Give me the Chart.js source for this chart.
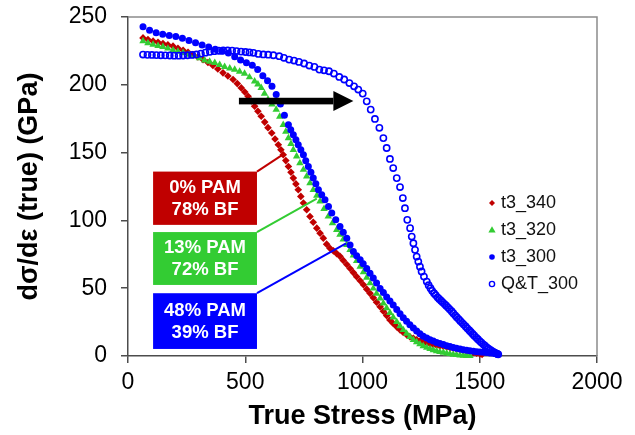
<!DOCTYPE html>
<html><head><meta charset="utf-8">
<script src="https://cdn.jsdelivr.net/npm/chart.js@4.4.1/dist/chart.umd.min.js"></script>
<style>html,body{margin:0;padding:0;background:#fff}canvas{display:block}</style>
</head><body>
<canvas id="c" width="635" height="435"></canvas>
<script>
const FONT = "'Liberation Sans', Arial, sans-serif";

// ---- data (True Stress MPa, dσ/dε GPa) ----
const seriesNames = ['t3_340', 't3_320', 't3_300', 'Q&T_300'];

const t3_340 = [[64,234.6],[85,233.4],[107,232.2],[128,231.3],[149,230.4],[170,229.5],[192,228.5],[213,227],[235,225.5],[256,224],[277,222.3],[298,220.5],[320,218.6],[341,216.5],[362,214.2],[383,211.6],[405,208.8],[426,206.5],[448,203.9],[466,200.9],[483,197.7],[498,194.7],[512,191.6],[526,188],[540,184.2],[554,180.5],[568,176.8],[583,172.5],[597,168.4],[613,164.4],[627,160],[641,155.8],[652,152.1],[662,148.4],[673,144.1],[684,139.8],[695,135.5],[705,131.2],[716,126.9],[726,122.6],[737,117.7],[748,112.8],[762,107.8],[776,102.9],[790,98.6],[805,94.3],[819,90.6],[833,86.9],[847,82.5],[861,79.5],[876,77.5],[890,75.5],[904,73.5],[918,70.5],[933,67.5],[947,64.5],[961,61.5],[975,58.5],[990,55.5],[1004,52.5],[1018,49.3],[1032,46.2],[1046,43],[1060,39.7],[1075,36.4],[1089,33],[1103,29.8],[1117,26.6],[1131,24],[1146,21.5],[1160,19.3],[1174,17.4],[1188,15.7],[1202,14.2],[1217,13],[1231,12],[1245,11],[1259,10.3],[1274,9.6],[1288,9],[1302,8.4],[1316,7.9],[1330,7.5],[1345,7.1],[1359,6.7],[1373,6.2],[1387,5.7],[1401,5.2],[1416,4.6],[1430,4.1],[1444,3.6],[1458,3.1],[1473,2.6],[1487,2.1],[1501,1.6],[1510,1.2]];

const t3_320 = [[64,232.2],[85,230.8],[107,229.7],[128,228.8],[149,228],[170,226.8],[192,225.5],[213,224.5],[235,223.6],[260,222.3],[284,221.1],[305,219.6],[327,218.1],[348,217.2],[370,216.2],[391,214.7],[412,213.2],[434,212.2],[455,211.2],[476,209.8],[497,208.3],[518,205.6],[540,202.6],[554,200.3],[568,197.7],[582,193.6],[597,189.1],[614,185.5],[632,181.7],[647,176.5],[662,170.5],[673,165.5],[684,160.7],[695,156.4],[705,152.1],[719,147.2],[733,142.3],[748,137.4],[762,132.5],[776,127.5],[790,122.6],[805,118.3],[819,114],[836,108.5],[854,102.9],[872,98],[890,93.1],[904,89.5],[918,86],[933,82],[947,78.3],[961,74.2],[975,70.1],[990,66],[1004,61.9],[1018,57.8],[1032,53.7],[1046,49.8],[1060,46],[1075,42.5],[1089,38.8],[1103,35.3],[1117,31.8],[1131,28.5],[1146,25.2],[1160,22],[1174,19.2],[1188,16.6],[1202,14.2],[1217,12],[1231,10.2],[1245,8.7],[1259,7.3],[1274,6.2],[1288,5.2],[1302,4.3],[1316,3.6],[1330,3],[1345,2.5],[1359,2],[1373,1.5],[1387,1.1],[1401,0.8],[1416,0.5],[1430,0.3],[1444,0.2],[1458,0.1]];

const t3_300 = [[64,242.8],[92,240.3],[120,238.3],[148,237.3],[176,236.4],[204,235.7],[232,234.4],[260,232.7],[288,231],[316,229.4],[344,227.8],[372,226.2],[400,224.8],[428,223.4],[455,220.6],[480,218.2],[505,216.2],[530,214.5],[553,211.2],[575,206.7],[595,203],[614,199],[632,192.8],[650,185.8],[667,177.5],[684,170.6],[694,166.8],[705,163.2],[716,159.5],[726,155.8],[737,152.1],[748,148.4],[758,144],[769,139.8],[780,135.5],[790,131.2],[801,127],[812,122.6],[826,118.9],[840,115.2],[855,110.3],[869,105.4],[886,100.5],[904,95.5],[918,91.2],[933,86.9],[947,81.8],[961,77],[975,74],[990,71],[1003,68],[1018,64.5],[1032,61],[1046,57.5],[1060,53.8],[1075,49.8],[1089,46.8],[1103,43.6],[1117,40.5],[1131,37.7],[1146,34.3],[1160,31.2],[1174,28.3],[1188,25.6],[1202,23],[1217,20.6],[1231,18.4],[1245,16.4],[1259,14.6],[1274,13.2],[1288,12],[1302,11],[1316,10],[1330,9.2],[1345,8.4],[1359,7.6],[1373,7],[1387,6.3],[1401,5.7],[1416,5.2],[1430,4.7],[1444,4.3],[1458,3.9],[1473,3.5],[1487,3.2],[1501,2.9],[1515,2.7],[1530,2.5],[1544,2.3],[1558,2],[1568,1.7],[1576,1.3]];

const qt_300 = [[64,222.3],[83,222.1],[102,222],[121,221.9],[140,221.8],[159,221.7],[178,221.6],[197,221.5],[216,221.5],[235,221.6],[254,221.8],[273,222],[292,222.4],[311,223],[330,223.7],[349,224.3],[368,224.8],[387,225.1],[406,225.3],[425,225.3],[444,225.2],[463,224.9],[482,224.5],[501,224.2],[518,223.9],[535,223.6],[556,222.8],[577,222.4],[598,222.2],[620,221.8],[645,221.1],[665,219.9],[687,218.6],[708,217.9],[729,216.9],[751,215.7],[773,214.2],[795,213.2],[816,211.2],[836,210.7],[857,210],[878,208.3],[901,205.8],[922,203.9],[944,201.3],[964,198.9],[982,196.5],[1001,193.5],[1018,187.8],[1035,181.7],[1053,174.8],[1072,168.3],[1089,160.7],[1103,153.4],[1117,145.3],[1131,138.6],[1146,131.2],[1160,124.6],[1172,116.5],[1181,109],[1191,100.4],[1203,94.3],[1210,88.1],[1217,83.2],[1224,78.3],[1231,73.3],[1238,69.6],[1245,65.9],[1252,62.3],[1262,58.6],[1274,54.9],[1282,52.2],[1290,50],[1297,48.1],[1305,46.3],[1312,44.9],[1320,43.3],[1327,42.1],[1335,40.8],[1342,39.6],[1350,38.3],[1357,37.1],[1365,35.7],[1372,34.4],[1380,33],[1387,31.6],[1395,30],[1402,28.6],[1410,27.2],[1417,25.9],[1425,24.5],[1432,23.2],[1440,21.8],[1447,20.4],[1455,19],[1462,17.7],[1470,16.3],[1477,15],[1485,13.6],[1492,12.4],[1500,11],[1507,9.9],[1515,8.6],[1522,7.6],[1530,6.4],[1537,5.4],[1545,4.5],[1551,3.8],[1558,3],[1564,2.5],[1570,2],[1575,1.6],[1579,1.2]];

const xTicks = [0, 500, 1000, 1500, 2000];
const yTicks = [0, 50, 100, 150, 200, 250];
const xTitle = 'True Stress (MPa)';
const yTitle = 'dσ/dε (true) (GPa)';

// annotation texts and anchors (data units)
const boxLabels = [['0% PAM', '78% BF'], ['13% PAM', '72% BF'], ['48% PAM', '39% BF']];
const boxXRange = [107, 550];
const boxYRanges = [[136, 96.7], [91.4, 52.4], [46.3, 5.2]];
const leaderEnds = [[655, 148], [805, 116], [930, 83]];
const arrowSpec = [473, 961, 188];

const RED = '#C00000', GREEN = '#33CC33', BLUE = '#0000FF';
const boxColors = [RED, GREEN, BLUE];

const toPts = arr => arr.map(p => ({x: p[0], y: p[1]}));

function marker(ctx, style, x, y, r, color) {
  ctx.save();
  ctx.fillStyle = color; ctx.strokeStyle = color;
  ctx.beginPath();
  if (style === 'rectRot') {
    ctx.moveTo(x, y - r); ctx.lineTo(x + r, y); ctx.lineTo(x, y + r); ctx.lineTo(x - r, y); ctx.closePath(); ctx.fill();
  } else if (style === 'triangle') {
    ctx.moveTo(x, y - r); ctx.lineTo(x + r * 0.95, y + r * 0.65); ctx.lineTo(x - r * 0.95, y + r * 0.65); ctx.closePath(); ctx.fill();
  } else if (style === 'circle') {
    ctx.arc(x, y, r, 0, Math.PI * 2); ctx.fill();
  } else {
    ctx.lineWidth = 1.4; ctx.arc(x, y, r, 0, Math.PI * 2); ctx.stroke();
  }
  ctx.restore();
}

const overlay = {
  id: 'overlay',
  beforeDatasetsDraw(chart) {
    const {ctx, chartArea: a} = chart;
    ctx.save();
    ctx.strokeStyle = '#8c8c8c'; ctx.lineWidth = 1.5;
    ctx.beginPath();
    ctx.moveTo(a.left, a.top); ctx.lineTo(a.right, a.top); ctx.lineTo(a.right, a.bottom);
    ctx.stroke();
    ctx.restore();
  },
  afterDatasetsDraw(chart) {
    const {ctx, scales: {x, y}, chartArea: a} = chart;
    ctx.save();
    // arrow
    const ax0 = x.getPixelForValue(arrowSpec[0]), ax1 = x.getPixelForValue(arrowSpec[1]);
    const ay = y.getPixelForValue(arrowSpec[2]);
    ctx.fillStyle = '#000';
    ctx.fillRect(ax0, ay - 3.3, ax1 - 20 - ax0, 6.6);
    ctx.beginPath();
    ctx.moveTo(ax1, ay); ctx.lineTo(ax1 - 20, ay - 10); ctx.lineTo(ax1 - 20, ay + 10); ctx.closePath(); ctx.fill();

    // boxes + leader lines
    const bx0 = x.getPixelForValue(boxXRange[0]), bx1 = x.getPixelForValue(boxXRange[1]);
    boxLabels.forEach((lines, i) => {
      const by0 = y.getPixelForValue(boxYRanges[i][0]), by1 = y.getPixelForValue(boxYRanges[i][1]);
      ctx.strokeStyle = boxColors[i]; ctx.lineWidth = 2;
      ctx.beginPath();
      ctx.moveTo(bx1, by0);
      ctx.lineTo(x.getPixelForValue(leaderEnds[i][0]), y.getPixelForValue(leaderEnds[i][1]));
      ctx.stroke();
      ctx.fillStyle = boxColors[i];
      ctx.fillRect(bx0, by0, bx1 - bx0, by1 - by0);
      ctx.fillStyle = '#fff';
      ctx.font = 'bold 18.5px ' + FONT;
      ctx.textAlign = 'center'; ctx.textBaseline = 'middle';
      const cx = (bx0 + bx1) / 2, cy = (by0 + by1) / 2;
      ctx.fillText(lines[0], cx, cy - 10.5);
      ctx.fillText(lines[1], cx, cy + 11.5);
    });

    // legend
    const styles = ['rectRot', 'triangle', 'circle', 'open'];
    const colors = [RED, GREEN, BLUE, BLUE];
    const sizes = [3, 3.8, 2.8, 2.6];
    const lx = a.right - 105, ly = a.top + 186;
    ctx.font = '18px ' + FONT;
    ctx.textAlign = 'left'; ctx.textBaseline = 'middle';
    seriesNames.forEach((n, i) => {
      const yy = ly + i * 27;
      marker(ctx, styles[i], lx, yy, sizes[i], colors[i]);
      ctx.fillStyle = '#111';
      ctx.fillText(n, lx + 9, yy);
    });
    ctx.restore();
  }
};

const axisColor = '#4d4d4d';
new Chart(document.getElementById('c'), {
  type: 'scatter',
  data: {
    datasets: [
      {label: seriesNames[3], data: toPts(qt_300), pointStyle: 'circle', pointRadius: 3.1, backgroundColor: 'rgba(0,0,0,0)', borderColor: BLUE, pointBorderWidth: 1.6, clip: false},
      {label: seriesNames[2], data: toPts(t3_300), pointStyle: 'circle', pointRadius: 3.5, backgroundColor: BLUE, borderColor: BLUE, pointBorderWidth: 0, clip: false},
      {label: seriesNames[1], data: toPts(t3_320), pointStyle: 'triangle', pointRadius: 4.3, backgroundColor: GREEN, borderColor: GREEN, pointBorderWidth: 0, clip: false},
      {label: seriesNames[0], data: toPts(t3_340), pointStyle: 'rectRot', pointRadius: 3.8, backgroundColor: RED, borderColor: RED, pointBorderWidth: 0, clip: false}
    ]
  },
  options: {
    responsive: false,
    animation: false,
    events: [],
    layout: {padding: {left: 0, right: 38, top: 17, bottom: 0}},
    plugins: {legend: {display: false}, tooltip: {enabled: false}},
    scales: {
      x: {
        type: 'linear', min: xTicks[0], max: xTicks[xTicks.length - 1],
        afterBuildTicks: s => { s.ticks = xTicks.map(v => ({value: v})); },
        afterFit: s => { s.height = 79; s.paddingLeft = 0; s.paddingRight = 0; },
        ticks: {color: '#000', font: {family: FONT, size: 23}, padding: 6, maxRotation: 0, callback: v => String(v)},
        grid: {drawOnChartArea: false, drawTicks: true, tickLength: 7, color: axisColor, lineWidth: 1.5},
        border: {display: true, color: axisColor, width: 1.5},
        title: {display: true, text: xTitle, color: '#000', font: {family: FONT, size: 27, weight: 'bold'}, padding: {top: 0, bottom: 2}}
      },
      y: {
        type: 'linear', min: yTicks[0], max: yTicks[yTicks.length - 1],
        afterBuildTicks: s => { s.ticks = yTicks.map(v => ({value: v})); },
        afterFit: s => { s.width = 128; s.paddingTop = 0; s.paddingBottom = 0; },
        ticks: {color: '#000', font: {family: FONT, size: 23}, padding: 14, callback: v => String(v)},
        grid: {drawOnChartArea: false, drawTicks: true, tickLength: 7, color: axisColor, lineWidth: 1.5},
        border: {display: true, color: axisColor, width: 1.5},
        title: {display: true, text: yTitle, color: '#000', font: {family: FONT, size: 27, weight: 'bold'}, padding: {top: 13, bottom: 0}}
      }
    }
  },
  plugins: [overlay]
});
</script>
</body></html>
